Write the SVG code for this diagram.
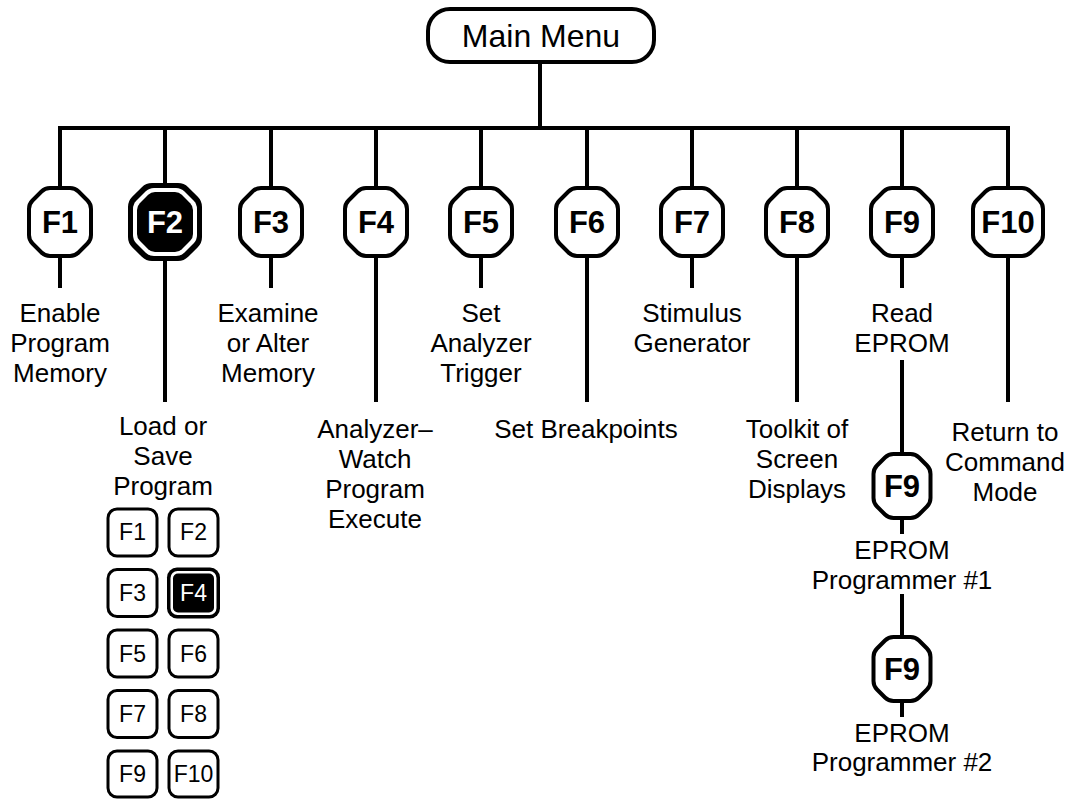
<svg xmlns="http://www.w3.org/2000/svg" width="1070" height="800" viewBox="0 0 1070 800">
<style>
.ln{stroke:#000;stroke-width:4;fill:none}
.key{fill:#fff;stroke:#000;stroke-width:4;stroke-linejoin:round}
.blk{fill:#000}
.wht{fill:#fff}
.kt{font-family:"Liberation Sans",Arial,sans-serif;font-weight:bold;font-size:31px;text-anchor:middle;fill:#000}
.kw{fill:#fff}
.lbl{font-family:"Liberation Sans",Arial,sans-serif;font-size:26px;text-anchor:middle;fill:#000}
.mm{font-family:"Liberation Sans",Arial,sans-serif;font-size:32px;text-anchor:middle;fill:#000}
.sk{fill:#fff;stroke:#000;stroke-width:3}
.st{font-family:"Liberation Sans",Arial,sans-serif;font-size:23px;text-anchor:middle;fill:#000}
</style>
<defs>
<path id="k" d="M 0,-34 H 10 Q 15,-34 18.5,-30.5 L 27.5,-21.5 Q 31,-18 31,-13 V 13 Q 31,18 27.5,21.5 L 18.5,30.5 Q 15,34 10,34 H -10 Q -15,34 -18.5,30.5 L -27.5,21.5 Q -31,18 -31,13 V -13 Q -31,-18 -27.5,-21.5 L -18.5,-30.5 Q -15,-34 -10,-34 Z"/>
<path id="kw10" d="M 0,-34 H 14 Q 19,-34 22.5,-30.5 L 31.5,-21.5 Q 35,-18 35,-13 V 13 Q 35,18 31.5,21.5 L 22.5,30.5 Q 19,34 14,34 H -14 Q -19,34 -22.5,30.5 L -31.5,21.5 Q -35,18 -35,13 V -13 Q -35,-18 -31.5,-21.5 L -22.5,-30.5 Q -19,-34 -14,-34 Z"/>
<path id="kc" d="M 0,-32 H 8.5 Q 13.5,-32 17,-28.5 L 25,-20.5 Q 28.5,-17 28.5,-12 V 12 Q 28.5,17 25,20.5 L 17,28.5 Q 13.5,32 8.5,32 H -8.5 Q -13.5,32 -17,28.5 L -25,20.5 Q -28.5,17 -28.5,12 V -12 Q -28.5,-17 -25,-20.5 L -17,-28.5 Q -13.5,-32 -8.5,-32 Z"/>
<path id="k2o" d="M 0,-39 H 13 Q 19,-39 23.2,-34.8 L 32.8,-25.2 Q 37,-21 37,-15 V 15 Q 37,21 32.8,25.2 L 23.2,34.8 Q 19,39 13,39 H -13 Q -19,39 -23.2,34.8 L -32.8,25.2 Q -37,21 -37,15 V -15 Q -37,-21 -32.8,-25.2 L -23.2,-34.8 Q -19,-39 -13,-39 Z"/>
<path id="k2w" d="M 0,-34 H 11 Q 16,-34 19.5,-30.5 L 28.5,-21.5 Q 32,-18 32,-13 V 13 Q 32,18 28.5,21.5 L 19.5,30.5 Q 16,34 11,34 H -11 Q -16,34 -19.5,30.5 L -28.5,21.5 Q -32,18 -32,13 V -13 Q -32,-18 -28.5,-21.5 L -19.5,-30.5 Q -16,-34 -11,-34 Z"/>
<path id="k2i" d="M 0,-30 H 10 Q 14,-30 16.8,-27.2 L 25.2,-18.8 Q 28,-16 28,-12 V 12 Q 28,16 25.2,18.8 L 16.8,27.2 Q 14,30 10,30 H -10 Q -14,30 -16.8,27.2 L -25.2,18.8 Q -28,16 -28,12 V -12 Q -28,-16 -25.2,-18.8 L -16.8,-27.2 Q -14,-30 -10,-30 Z"/>
</defs>

<g id="connectors">
<line class="ln" x1="540" y1="62" x2="540" y2="128"/>
<line class="ln" x1="58" y1="128" x2="1010" y2="128"/>
<line class="ln" x1="60" y1="128" x2="60" y2="188"/>
<line class="ln" x1="165" y1="128" x2="165" y2="183"/>
<line class="ln" x1="271" y1="128" x2="271" y2="188"/>
<line class="ln" x1="376" y1="128" x2="376" y2="188"/>
<line class="ln" x1="481" y1="128" x2="481" y2="188"/>
<line class="ln" x1="587" y1="128" x2="587" y2="188"/>
<line class="ln" x1="692" y1="128" x2="692" y2="188"/>
<line class="ln" x1="797" y1="128" x2="797" y2="188"/>
<line class="ln" x1="902" y1="128" x2="902" y2="188"/>
<line class="ln" x1="1008" y1="128" x2="1008" y2="188"/>
<line class="ln" x1="60" y1="256" x2="60" y2="288"/>
<line class="ln" x1="271" y1="256" x2="271" y2="288"/>
<line class="ln" x1="481" y1="256" x2="481" y2="288"/>
<line class="ln" x1="692" y1="256" x2="692" y2="288"/>
<line class="ln" x1="902" y1="256" x2="902" y2="288"/>
<line class="ln" x1="165" y1="261" x2="165" y2="402"/>
<line class="ln" x1="376" y1="256" x2="376" y2="402"/>
<line class="ln" x1="587" y1="256" x2="587" y2="402"/>
<line class="ln" x1="797" y1="256" x2="797" y2="402"/>
<line class="ln" x1="1008" y1="256" x2="1008" y2="402"/>
<line class="ln" x1="902" y1="360" x2="902" y2="454"/>
<line class="ln" x1="902" y1="518" x2="902" y2="534"/>
<line class="ln" x1="902" y1="594" x2="902" y2="637"/>
<line class="ln" x1="902" y1="701" x2="902" y2="717"/>
</g>

<g id="main-menu">
<rect x="428" y="9" width="226" height="53" rx="22" ry="22" class="key"/>
<text x="541" y="47" class="mm">Main Menu</text>
</g>

<g id="F1" transform="translate(60,222)"><use href="#k" class="key"/><text y="11" class="kt">F1</text></g>
<g id="F2" transform="translate(165,222)"><use href="#k2o" class="blk"/><use href="#k2w" class="wht"/><use href="#k2i" class="blk"/><text y="11" class="kt kw">F2</text></g>
<g id="F3" transform="translate(271,222)"><use href="#k" class="key"/><text y="11" class="kt">F3</text></g>
<g id="F4" transform="translate(376,222)"><use href="#k" class="key"/><text y="11" class="kt">F4</text></g>
<g id="F5" transform="translate(481,222)"><use href="#k" class="key"/><text y="11" class="kt">F5</text></g>
<g id="F6" transform="translate(587,222)"><use href="#k" class="key"/><text y="11" class="kt">F6</text></g>
<g id="F7" transform="translate(692,222)"><use href="#k" class="key"/><text y="11" class="kt">F7</text></g>
<g id="F8" transform="translate(797,222)"><use href="#k" class="key"/><text y="11" class="kt">F8</text></g>
<g id="F9" transform="translate(902,222)"><use href="#k" class="key"/><text y="11" class="kt">F9</text></g>
<g id="F10" transform="translate(1008,222)"><use href="#kw10" class="key"/><text y="11" class="kt">F10</text></g>

<g id="lbl-F1"><text x="60" y="322" class="lbl">Enable</text><text x="60" y="352" class="lbl">Program</text><text x="60" y="382" class="lbl">Memory</text></g>
<g id="lbl-F3"><text x="268" y="322" class="lbl">Examine</text><text x="268" y="352" class="lbl">or Alter</text><text x="268" y="382" class="lbl">Memory</text></g>
<g id="lbl-F5"><text x="481" y="322" class="lbl">Set</text><text x="481" y="352" class="lbl">Analyzer</text><text x="481" y="382" class="lbl">Trigger</text></g>
<g id="lbl-F7"><text x="692" y="322" class="lbl">Stimulus</text><text x="692" y="352" class="lbl">Generator</text></g>
<g id="lbl-F9"><text x="902" y="322" class="lbl">Read</text><text x="902" y="352" class="lbl">EPROM</text></g>

<g id="lbl-F2"><text x="163" y="435" class="lbl">Load or</text><text x="163" y="465" class="lbl">Save</text><text x="163" y="495" class="lbl">Program</text></g>
<g id="lbl-F4"><text x="375" y="438" class="lbl">Analyzer–</text><text x="375" y="468" class="lbl">Watch</text><text x="375" y="498" class="lbl">Program</text><text x="375" y="528" class="lbl">Execute</text></g>
<g id="lbl-F6"><text x="586" y="438" class="lbl">Set Breakpoints</text></g>
<g id="lbl-F8"><text x="797" y="438" class="lbl">Toolkit of</text><text x="797" y="468" class="lbl">Screen</text><text x="797" y="498" class="lbl">Displays</text></g>
<g id="lbl-F10"><text x="1005" y="441" class="lbl">Return to</text><text x="1005" y="471" class="lbl">Command</text><text x="1005" y="501" class="lbl">Mode</text></g>

<g id="F9-prog1" transform="translate(902,486)"><use href="#kc" class="key"/><text y="11" class="kt">F9</text></g>
<g id="lbl-prog1"><text x="902" y="559" class="lbl">EPROM</text><text x="902" y="589" class="lbl">Programmer #1</text></g>
<g id="F9-prog2" transform="translate(902,669)"><use href="#kc" class="key"/><text y="11" class="kt">F9</text></g>
<g id="lbl-prog2"><text x="902" y="742" class="lbl">EPROM</text><text x="902" y="771" class="lbl">Programmer #2</text></g>

<g id="sub-keys">
<g id="s-F1"><rect x="108" y="509" width="49" height="47" rx="9" class="sk"/><text x="132.5" y="540" class="st">F1</text></g>
<g id="s-F2"><rect x="169" y="509" width="49" height="47" rx="9" class="sk"/><text x="193.5" y="540" class="st">F2</text></g>
<g id="s-F3"><rect x="108" y="569.5" width="49" height="47" rx="9" class="sk"/><text x="132.5" y="601" class="st">F3</text></g>
<g id="s-F4"><rect x="167" y="567.5" width="53" height="51" rx="10" fill="#000"/><rect x="170.5" y="571" width="46" height="44" rx="7" fill="#fff"/><rect x="173" y="573.5" width="41" height="39" rx="5" fill="#000"/><text x="193.5" y="601" class="st" style="fill:#fff">F4</text></g>
<g id="s-F5"><rect x="108" y="630" width="49" height="47" rx="9" class="sk"/><text x="132.5" y="661.5" class="st">F5</text></g>
<g id="s-F6"><rect x="169" y="630" width="49" height="47" rx="9" class="sk"/><text x="193.5" y="661.5" class="st">F6</text></g>
<g id="s-F7"><rect x="108" y="690.5" width="49" height="47" rx="9" class="sk"/><text x="132.5" y="722" class="st">F7</text></g>
<g id="s-F8"><rect x="169" y="690.5" width="49" height="47" rx="9" class="sk"/><text x="193.5" y="722" class="st">F8</text></g>
<g id="s-F9"><rect x="108" y="751" width="49" height="46" rx="9" class="sk"/><text x="132.5" y="782" class="st">F9</text></g>
<g id="s-F10"><rect x="169" y="751" width="49" height="46" rx="9" class="sk"/><text x="193.5" y="782" class="st">F10</text></g>
</g>
</svg>
